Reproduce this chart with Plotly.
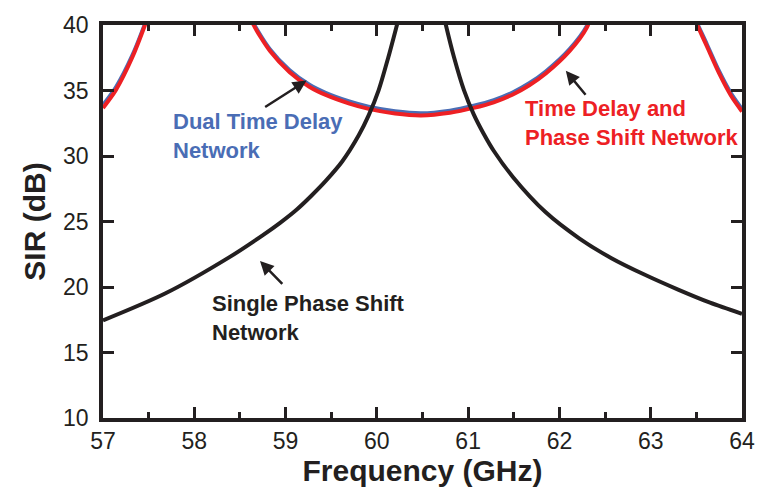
import plotly.graph_objects as go

# ---- data ----
# Single phase shift network (black)
sps_f = [57.0, 57.68, 58.39, 58.76, 58.94, 59.12, 59.28, 59.44, 59.62, 59.80, 59.91, 60.02, 60.125, 60.22, 60.25, None,
         60.73, 60.756, 60.846, 60.954, 61.06, 61.17, 61.28, 61.49, 61.85, 62.22, 62.57, 62.93, 63.30, 63.65, 64.0]
sps_sir = [17.45, 19.5, 22.3, 24.0, 24.9, 25.9, 26.95, 28.1, 29.58, 31.56, 33.1, 35.03, 37.52, 40.0, 40.8, None,
           40.8, 40.0, 37.52, 35.03, 33.2, 31.7, 30.4, 28.4, 25.7, 23.7, 22.2, 20.95, 19.8, 18.8, 17.95]

# Time delay and phase shift network (red)
tdps_f = [57.0, 57.14, 57.32, 57.46, 57.49, None,
          58.62, 58.65, 58.83, 59.045, 59.26, 59.44, 59.70, 59.91, 60.20, 60.485, 60.80, 61.06, 61.28, 61.49, 61.67, 61.85, 62.11, 62.30, 62.34, None,
          63.48, 63.51, 63.62, 63.75, 63.88, 64.0]
tdps_sir = [33.67, 35.03, 37.52, 40.0, 40.6, None,
            40.6, 40.0, 38.01, 36.4, 35.29, 34.66, 34.0, 33.6, 33.25, 33.1, 33.3, 33.67, 34.1, 34.7, 35.4, 36.3, 38.0, 39.8, 40.6, None,
            40.5, 40.0, 38.3, 36.3, 34.6, 33.4]

# Dual time delay network (blue)
dtd_f = tdps_f
dtd_sir = [33.95, 35.3, 37.75, 40.2, 40.8, None,
           40.8, 40.2, 38.2, 36.6, 35.49, 34.86, 34.2, 33.8, 33.45, 33.3, 33.5, 33.87, 34.3, 34.9, 35.6, 36.5, 38.2, 40.0, 40.8, None,
           40.7, 40.2, 38.55, 36.55, 34.85, 33.65]

x_ticks = [57, 58, 59, 60, 61, 62, 63, 64]
y_ticks = [10, 15, 20, 25, 30, 35, 40]

BLACK = "#231F20"
RED = "#ED2024"
BLUE = "#4A6DB5"
FONT = "Liberation Sans"

fig = go.Figure()
fig.add_trace(go.Scatter(x=dtd_f, y=dtd_sir, mode="lines",
                         line=dict(color=BLUE, width=3, shape="spline", smoothing=0.8),
                         connectgaps=False, name="Dual Time Delay Network"))
fig.add_trace(go.Scatter(x=tdps_f, y=tdps_sir, mode="lines",
                         line=dict(color=RED, width=4, shape="spline", smoothing=0.8),
                         connectgaps=False, name="Time Delay and Phase Shift Network"))
fig.add_trace(go.Scatter(x=sps_f, y=sps_sir, mode="lines",
                         line=dict(color=BLACK, width=4, shape="spline", smoothing=0.8),
                         connectgaps=False, name="Single Phase Shift Network"))

# text labels
def label(text, x, y, color):
    fig.add_annotation(x=x, y=y, xref="x", yref="y", text=text, showarrow=False,
                       xanchor="left", yanchor="middle", align="left",
                       font=dict(family=FONT, size=22, color=color))

def arrow(xh, yh, xt, yt):
    fig.add_annotation(x=xh, y=yh, ax=xt, ay=yt, xref="x", yref="y", axref="x", ayref="y",
                       text="", showarrow=True, arrowhead=2, arrowsize=1.1, arrowwidth=2.5,
                       arrowcolor=BLACK, standoff=0, startstandoff=0)

label("<b>Dual Time Delay<br>Network</b>", 57.745, 31.55, BLUE)
label("<b>Time Delay and<br>Phase Shift Network</b>", 61.60, 32.52, RED)
label("<b>Single Phase Shift<br>Network</b>", 58.17, 17.66, BLACK)

arrow(59.23, 35.76, 58.76, 33.67)
arrow(62.07, 36.5, 62.30, 34.56)
arrow(58.72, 21.98, 58.98, 20.12)

axis_common = dict(showgrid=False, zeroline=False, showline=True, linecolor=BLACK, linewidth=3.5,
                   mirror="ticks", ticks="inside", ticklen=11, tickwidth=3, tickcolor=BLACK,
                   tickfont=dict(family=FONT, size=23, color=BLACK))

fig.update_xaxes(range=[57, 64], tickvals=x_ticks, ticktext=[str(v) for v in x_ticks],
                 minor=dict(dtick=0.5, tick0=57, ticks="inside", ticklen=6, tickwidth=3, tickcolor=BLACK, showgrid=False),
                 title=dict(text="<b>Frequency (GHz)</b>", font=dict(family=FONT, size=30, color=BLACK), standoff=2),
                 **axis_common)
fig.update_yaxes(range=[10, 40], tickvals=y_ticks, ticktext=[str(v) for v in y_ticks],
                 ticklabelstandoff=6,
                 title=dict(text="<b>SIR (dB)</b>", font=dict(family=FONT, size=30, color=BLACK), standoff=10),
                 **axis_common)

fig.update_layout(width=767, height=495, margin=dict(l=103, r=15, t=15, b=77),
                  plot_bgcolor="white", paper_bgcolor="white", showlegend=False)

fig.write_html("out.html")
